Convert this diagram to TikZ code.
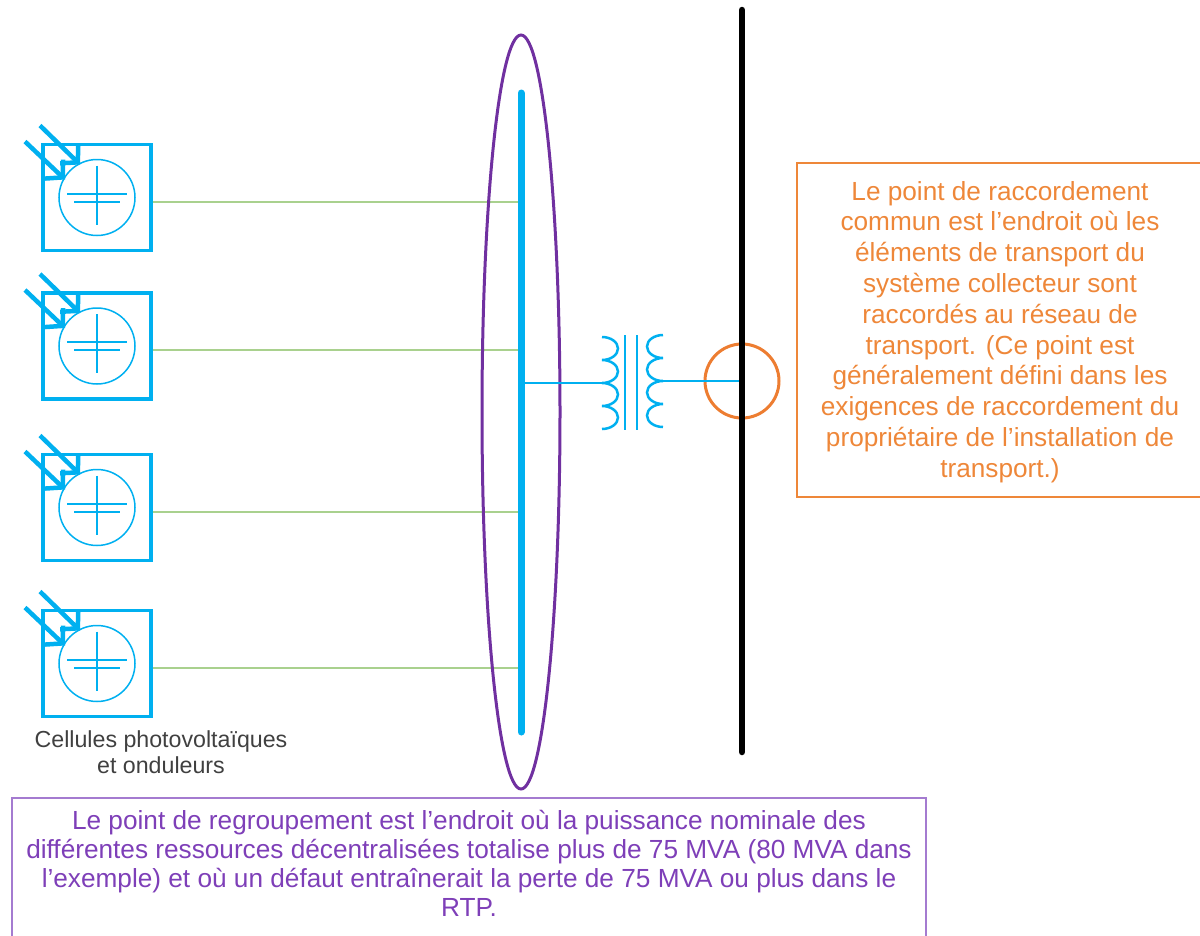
\documentclass[tikz,border=0pt]{standalone}
\usepackage{fontspec}
\setmainfont{Liberation Sans}
\usepackage{tikz}
\usetikzlibrary{arrows.meta}
\usetikzlibrary{positioning}

\definecolor{pvblue}{HTML}{00B0F0}
\definecolor{feedgreen}{HTML}{A9D18E}
\definecolor{grpviolet}{HTML}{7030A0}
\definecolor{grptext}{HTML}{7E3FB8}
\definecolor{grpframe}{HTML}{A47BD0}
\definecolor{pccorange}{HTML}{ED7D31}
\definecolor{pcctext}{HTML}{EE8739}
\definecolor{labelgray}{HTML}{404040}

\tikzset{
	pvbox/.style={draw=pvblue, line width=3.5pt, minimum width=108pt, minimum height=106pt, inner sep=0pt},
	pvcell/.style={draw=pvblue, circle, line width=1.5pt, minimum size=76pt, inner sep=0pt},
	ray/.style={pvblue, line width=4.5pt, -{Straight Barb[length=12pt, width=26pt]}},
	feeder/.style={feedgreen, line width=2pt},
	xfmr/.style={pvblue, line width=2.5pt},
}

\begin{document}
\begin{tikzpicture}[x=1pt, y=-1pt]
		\useasboundingbox (0,0) rectangle (1200,935);
		\clip (0,0) rectangle (1200,935);

		\coordinate (bustop) at (521,93);
		\coordinate (busbot) at (521,732);
		\coordinate (gridtop) at (742,10);
		\coordinate (gridbot) at (742,752);
		\coordinate (tin) at (602,383);
		\coordinate (tout) at (663,381);

		\foreach \n/\y in {1/197.5, 2/346, 3/507.5, 4/663.5} {
			\node[pvbox] (pv\n) at (97,\y) {};
			\node[pvcell] (cell\n) at (pv\n.center) {};
			\draw[pvblue, line width=2pt] (cell\n.center) ++(-30,-4) -- ++(60,0);
			\draw[pvblue, line width=2pt] (cell\n.center) ++(-23,4) -- ++(46,0);
			\draw[pvblue, line width=2pt] (cell\n.center) ++(0,-32) -- ++(0,59);
			\draw[ray] (pv\n.center) ++(-72,-56) -- ++(40,38);
			\draw[ray] (pv\n.center) ++(-57,-72) -- ++(40,39);
			\draw[feeder] ([yshift=-4pt]pv\n.east) -- ([yshift=-4pt]pv\n.east -| bustop);
		}

		\node[labelgray, font=\fontsize{23.2}{26}\selectfont, align=center, anchor=north, inner sep=0pt] (pvlabel) at (161,730) {Cellules photovoltaïques\\et onduleurs};

		\draw[grpviolet, line width=3pt] (521,412) ellipse[x radius=39, y radius=377];
		\draw[pvblue, line width=7pt, line cap=round] (bustop) -- (busbot);

		\draw[xfmr] (bustop |- tin) -- (tin);
		\draw[xfmr] (602,337) \foreach \k in {1,...,4} {arc[start angle=-90, end angle=90, x radius=16, y radius=11.5]};
		\draw[xfmr] (663,335) \foreach \k in {1,...,4} {arc[start angle=-90, end angle=-270, x radius=16, y radius=11.5]};
		\draw[xfmr] (625,335) -- (625,430);
		\draw[xfmr] (637,335) -- (637,430);

		\node[draw=pccorange, circle, line width=3pt, minimum size=74pt, inner sep=0pt] (pcc) at (742,381) {};
		\draw[xfmr] (tout) -- (tout -| pcc.center);
		\draw[black, line width=6.5pt, line cap=round] (gridtop) -- (gridbot);

		\node[draw=pcctext, line width=2.5pt, minimum width=408pt, minimum height=334pt, inner sep=0pt] (pccbox) at (1001,330) {};
		\node[pcctext, font=\fontsize{26.2}{30.8}\selectfont, align=center, anchor=north, inner sep=0pt] (pccnote) at (1000,181) {Le point de raccordement\\commun est l’endroit où les\\éléments de transport du\\système collecteur sont\\raccordés au réseau de\\transport. (Ce point est\\généralement défini dans les\\exigences de raccordement du\\propriétaire de l’installation de\\transport.)};

		\node[draw=grpframe, line width=2.5pt, minimum width=914pt, minimum height=150pt, inner sep=0pt] (grpbox) at (469,873) {};
		\node[grptext, font=\fontsize{26.2}{29}\selectfont, align=center, anchor=north, inner sep=0pt] (grpnote) at (469,810) {Le point de regroupement est l’endroit où la puissance nominale des\\différentes ressources décentralisées totalise plus de 75 MVA (80 MVA dans\\l’exemple) et où un défaut entraînerait la perte de 75 MVA ou plus dans le\\RTP.};
	\end{tikzpicture}
\end{document}
